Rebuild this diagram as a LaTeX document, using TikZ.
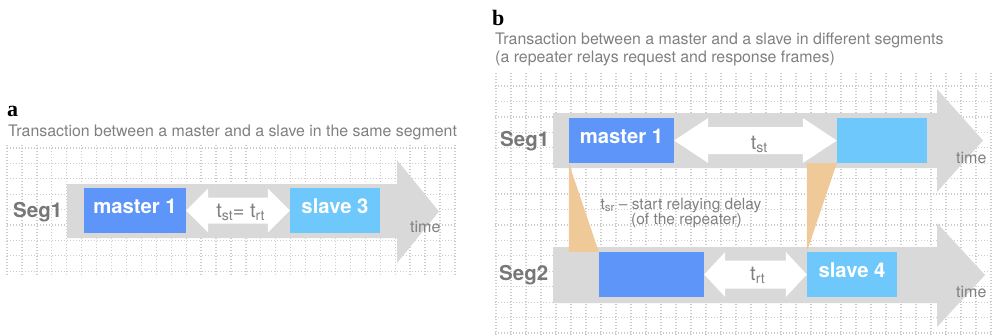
\documentclass[tikz,border=0pt]{standalone}
\usepackage{fontspec}
\setmainfont{TeX Gyre Heros}
\newfontfamily\panelfont{Liberation Serif}
\usetikzlibrary{calc}

\definecolor{bandgray}{HTML}{D9D9D9}
\definecolor{textgray}{HTML}{808080}
\definecolor{seggray}{HTML}{777777}
\definecolor{griddot}{HTML}{CCCCCC}
\definecolor{masterblue}{HTML}{5E95F8}
\definecolor{slaveblue}{HTML}{6EC8FB}
\definecolor{relayorange}{HTML}{F0C999}

% horizontal time band with arrow head: x0, top, bottom, head start, head top, head bottom, tip x
\newcommand\timeband[7]{%
  \fill[bandgray] (#1,#2) -- (#4,#2) -- (#4,#5) -- (#7,{(#5+#6)/2}) -- (#4,#6) -- (#4,#3) -- (#1,#3) -- cycle;}

% white double-headed arrow between two frame boxes:
% left node, right node, head length, head half height, shaft half height
\newcommand\spanarrow[5]{%
  \fill[white] let \p1=(#1.east), \p2=(#2.west) in
    (\x1,\y1) -- ({\x1+#3},{\y1+#4}) -- ({\x1+#3},{\y1+#5}) -- ({\x2-#3},{\y1+#5})
    -- ({\x2-#3},{\y1+#4}) -- (\x2,\y1) -- ({\x2-#3},{\y1-#4}) -- ({\x2-#3},{\y1-#5})
    -- ({\x1+#3},{\y1-#5}) -- ({\x1+#3},{\y1-#4}) -- cycle;}

\newcommand\lowsub[1]{\raisebox{-3pt}{\fontsize{14}{14}\selectfont #1}}
\newcommand\smallsub[1]{\raisebox{-2.5pt}{\fontsize{11.5}{11.5}\selectfont #1}}

\tikzset{
  dotline/.style={griddot, line width=1.3pt, dash pattern=on 1.3pt off 1.7pt},
  framebox/.style={minimum width=#1, minimum height=45pt, inner sep=0pt,
    text=white, font=\fontsize{20.3}{21}\selectfont\bfseries,
    text height=5.6pt, text depth=0pt},
  masterframe/.style={framebox=#1, fill=masterblue},
  slaveframe/.style={framebox=#1, fill=slaveblue},
  seglabel/.style={anchor=base west, inner sep=0pt, text=seggray,
    font=\fontsize{20.5}{21}\selectfont\bfseries},
  timelabel/.style={anchor=base west, inner sep=0pt, text=textgray,
    font=\fontsize{16}{16}\selectfont},
  caption/.style={anchor=base west, inner sep=0pt, text=textgray,
    font=\fontsize{15.9}{16}\selectfont},
  delaylabel/.style={anchor=base, inner sep=0pt, text=textgray,
    font=\fontsize{20}{20}\selectfont},
  relaytext/.style={anchor=base, inner sep=0pt, text=textgray,
    font=\fontsize{15.5}{16}\selectfont},
  panellabel/.style={anchor=base west, inner sep=0pt,
    font=\panelfont\fontsize{22}{22}\selectfont\bfseries},
}

\begin{document}
\begin{tikzpicture}[x=1pt,y=-1pt]
\useasboundingbox (0,0) rectangle (993,335);

% ---------------- panel a ----------------
\node[panellabel] (la) at (7,116) {a};
\node[caption] (capa) at (8,136) {Transaction between a master and a slave in the same segment};

% dotted grid
\foreach \i in {0,...,30}
  \draw[dotline] ({7+\i*14.93},145) -- ({7+\i*14.93},275);
\foreach \j in {0,...,8}
  \draw[dotline] (7,{148+\j*15.4}) -- (455,{148+\j*15.4});

\timeband{67}{184}{238}{397}{160}{263}{439}

\node[masterframe=102pt] (ma) at (135,210.5) {master 1};
\node[slaveframe=90pt] (sa) at (335,210.5) {slave 3};
\spanarrow{ma}{sa}{22pt}{22pt}{13pt}
\node[delaylabel] (ta) at (240.5,217) {t\lowsub{st}= t\lowsub{rt}};

\node[seglabel] (sega) at (13,217) {Seg1};
\node[timelabel] (tima) at (410,232.5) {time};

% ---------------- panel b ----------------
\node[panellabel] (lb) at (492,25) {b};
\node[caption] (capb1) at (495,44) {Transaction between a master and a slave in different segments};
\node[caption] (capb2) at (495,62.5) {(a repeater relays request and response frames)};

% dotted grid
\foreach \i in {0,...,33}
  \draw[dotline] ({496+\i*15},73) -- ({496+\i*15},335);
\foreach \j in {0,...,16}
  \draw[dotline] (495,{86+\j*15.44}) -- (993,{86+\j*15.44});

\timeband{553}{113}{168}{937}{89}{192}{983}
\timeband{553}{247}{303}{937}{223}{327}{985}

\node[masterframe=105pt] (mb) at (621.5,140.5) {master 1};
\node[slaveframe=90pt] (rb) at (882,140.5) {};
\node[masterframe=105pt] (rm) at (651.5,274.5) {};
\node[slaveframe=90pt] (sb) at (852,274.5) {slave 4};

% start relaying delay of the repeater
\fill[relayorange] (mb.south west) -- (rm.north west -| mb.south west) -- (rm.north west) -- cycle;
\fill[relayorange] (sb.north west |- rb.south west) -- (rb.south west) -- (sb.north west) -- cycle;

\spanarrow{mb}{rb}{34pt}{22.5pt}{13.5pt}
\spanarrow{rm}{sb}{21pt}{22.5pt}{14pt}
\node[delaylabel] (tb1) at (759,149) {t\lowsub{st}};
\node[delaylabel] (tb2) at (757.5,280) {t\lowsub{rt}};

\node[relaytext] (relay1) at (681,209) {t\smallsub{sr} -- start relaying delay};
\node[relaytext] (relay2) at (686.5,224.5) {(of the repeater)};

\node[seglabel] (segb1) at (500,146.5) {Seg1};
\node[seglabel] (segb2) at (499,280.5) {Seg2};
\node[timelabel] (timb1) at (956,163) {time};
\node[timelabel] (timb2) at (956,297) {time};
\end{tikzpicture}
\end{document}
